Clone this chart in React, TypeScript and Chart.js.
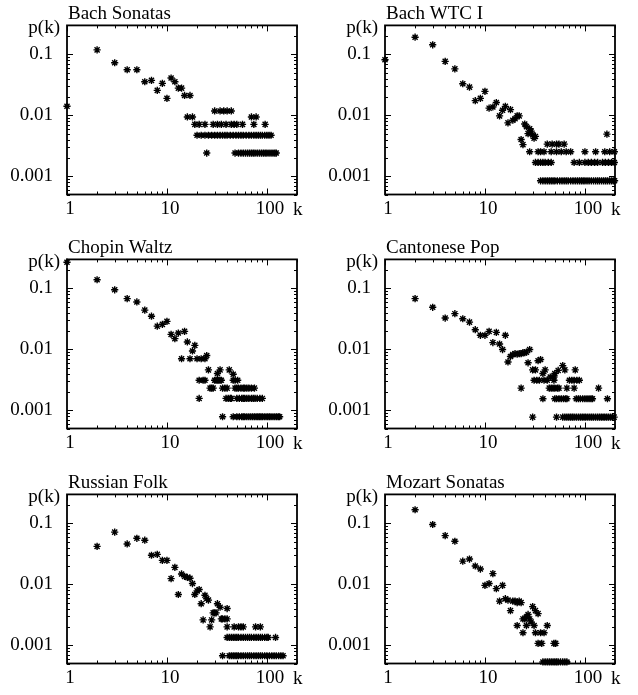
import React, { useEffect, useRef } from 'react';
import { Chart, registerables } from 'chart.js';

Chart.register(...registerables);

const FONT = '"Liberation Serif", "Times New Roman", Times, serif';

type Pt = [number, number];
type Row = { p: number; k: number[] };

// ---- Bach Sonatas ----
const bachSonatasPts: Pt[] = [
  [1, 0.0141], [2, 0.119], [3, 0.073], [4, 0.056], [5, 0.056], [6, 0.0356], [7, 0.0375],
  [8, 0.0257], [9, 0.0335], [10, 0.019], [11, 0.041], [12, 0.0356], [13, 0.028], [14, 0.028],
  [15, 0.0212], [17, 0.0212],
];
const bachSonatasRows: Row[] = [
  { p: 0.0118, k: [30, 34, 37, 40, 44] },
  { p: 0.0094, k: [16, 18, 70, 78] },
  { p: 0.0071, k: [19, 21, 24, 29, 32, 35, 39, 44, 47, 50, 57, 74, 96] },
  { p: 0.0047, k: [20, 22, 24, 26, 28, 30, 32, 34, 36, 38, 40, 43, 46, 49, 52, 55, 58, 62, 66, 70, 74, 78, 82, 86, 90, 95, 100, 105, 110] },
  { p: 0.0024, k: [25, 48, 52, 55, 58, 61, 64, 67, 70, 73, 76, 80, 84, 88, 92, 96, 100, 105, 110, 115, 120, 124] },
];

// ---- Bach WTC I ----
const bachWtcPts: Pt[] = [
  [1, 0.082], [2, 0.192], [3, 0.144], [4, 0.077], [5, 0.058], [6, 0.033], [7, 0.029],
  [8, 0.0174], [9, 0.019], [10, 0.0247], [11, 0.0131], [12, 0.0137], [13, 0.0162], [14, 0.0098],
  [15, 0.0121], [16, 0.014], [17, 0.0075], [18, 0.0124], [19, 0.0083], [20, 0.0088], [21, 0.0098],
  [22, 0.0098], [23, 0.004], [24, 0.0033], [25, 0.0072], [26, 0.0065], [27, 0.005], [28, 0.006],
  [29, 0.0055], [30, 0.0048], [31, 0.0042], [32, 0.0045], [166, 0.0049],
];
const bachWtcRows: Row[] = [
  { p: 0.00336, k: [42, 47, 52, 55, 62] },
  { p: 0.00252, k: [28, 34, 36, 39, 46, 52, 58, 65, 72, 100, 128, 158, 177, 197] },
  { p: 0.00168, k: [32, 34, 36, 38, 40, 43, 46, 78, 88, 100, 108, 116, 125, 134, 150, 160, 172, 185, 197] },
  { p: 0.00084, k: [36, 38, 40, 42, 44, 46, 48, 50, 53, 56, 59, 62, 65, 68, 72, 76, 80, 84, 88, 92, 96, 100, 105, 110, 116, 122, 128, 134, 140, 147, 154, 161, 168, 176, 184, 192, 198] },
];

// ---- Chopin Waltz ----
const chopinPts: Pt[] = [
  [1, 0.27], [2, 0.139], [3, 0.095], [4, 0.068], [5, 0.06], [6, 0.044], [7, 0.035], [8, 0.024],
  [9, 0.0257], [10, 0.0288], [11, 0.0176], [12, 0.015], [13, 0.0185], [15, 0.0197], [16, 0.0132],
  [18, 0.0094], [19, 0.0116], [25, 0.0079], [26, 0.0046], [32, 0.004], [34, 0.0046], [42, 0.0046],
  [46, 0.0039],
];
const chopinRows: Row[] = [
  { p: 0.0070, k: [14, 17, 20, 22, 24] },
  { p: 0.0031, k: [21, 23, 24, 30, 31, 32, 33, 34, 35, 46, 48, 51] },
  { p: 0.0023, k: [27, 28, 29, 36, 38, 40, 48, 50, 52, 55, 58, 60, 63, 66, 70, 75] },
  { p: 0.00156, k: [21, 39, 41, 43, 44, 50, 53, 56, 58, 60, 63, 66, 70, 73, 76, 80, 85, 90] },
  { p: 0.00078, k: [36, 46, 50, 53, 56, 58, 60, 63, 66, 69, 72, 75, 78, 81, 84, 87, 90, 94, 98, 102, 106, 110, 115, 120, 125, 130, 134] },
];

// ---- Cantonese Pop ----
const cantonesePts: Pt[] = [
  [2, 0.068], [3, 0.049], [4, 0.0326], [5, 0.0385], [6, 0.0318], [7, 0.028], [8, 0.021],
  [9, 0.017], [10, 0.017], [11, 0.0197], [12, 0.0129], [13, 0.019], [14, 0.0122], [15, 0.0099],
  [16, 0.017], [17, 0.0062], [18, 0.0076], [19, 0.0082], [20, 0.0085], [21, 0.0083], [22, 0.0085],
  [23, 0.0085], [24, 0.0088], [25, 0.0088], [26, 0.009], [27, 0.006], [28, 0.0099], [30, 0.0046],
  [32, 0.0046], [34, 0.0065], [36, 0.0068], [38, 0.004], [40, 0.0046], [45, 0.0035], [49, 0.0035],
  [50, 0.004], [54, 0.0045], [60, 0.0054], [63, 0.0046], [80, 0.0046],
];
const cantoneseRows: Row[] = [
  { p: 0.0031, k: [31, 33, 35, 39, 42, 49, 70, 74, 78, 83, 88] },
  { p: 0.0023, k: [23, 44, 46, 48, 50, 53, 55, 66, 78, 137] },
  { p: 0.00154, k: [38, 50, 52, 55, 58, 61, 64, 66, 82, 86, 90, 95, 100, 105, 110, 115, 119, 168] },
  { p: 0.00077, k: [30, 52, 60, 63, 66, 69, 72, 75, 78, 82, 86, 90, 94, 98, 102, 107, 112, 117, 122, 128, 134, 140, 146, 152, 158, 165, 172, 180, 188, 196] },
];

// ---- Russian Folk ----
const russianPts: Pt[] = [
  [2, 0.042], [3, 0.072], [4, 0.046], [5, 0.057], [6, 0.053], [7, 0.03], [8, 0.031], [9, 0.0247],
  [10, 0.0247], [11, 0.0124], [12, 0.019], [13, 0.0068], [14, 0.0148], [15, 0.0135], [16, 0.013],
  [17, 0.0126], [18, 0.0103], [19, 0.0068], [20, 0.0078], [21, 0.0082], [22, 0.0048], [23, 0.0026],
  [24, 0.0066], [25, 0.0058], [26, 0.0055], [27, 0.002], [28, 0.0026], [29, 0.0034], [30, 0.0034],
  [31, 0.0034], [32, 0.0048], [34, 0.0042], [40, 0.004],
];
const russianRows: Row[] = [
  { p: 0.0027, k: [35, 36, 38, 40] },
  { p: 0.002, k: [40, 47, 52, 55, 58, 77, 86] },
  { p: 0.00134, k: [40, 42, 44, 46, 48, 50, 52, 55, 58, 61, 64, 67, 70, 74, 78, 82, 86, 90, 95, 100, 103, 122] },
  { p: 0.00067, k: [36, 42, 44, 46, 48, 50, 52, 55, 58, 61, 64, 67, 70, 74, 78, 82, 86, 90, 95, 100, 106, 112, 118, 124, 131, 138, 145] },
];

// ---- Mozart Sonatas ----
const mozartPts: Pt[] = [
  [2, 0.168], [3, 0.096], [4, 0.063], [5, 0.051], [6, 0.024], [7, 0.026], [8, 0.02], [9, 0.0178],
  [10, 0.0096], [11, 0.0103], [12, 0.015], [13, 0.0085], [14, 0.0053], [15, 0.0096], [16, 0.0058],
  [17, 0.0055], [18, 0.0037], [19, 0.0053], [20, 0.0053], [21, 0.005], [22, 0.0053], [23, 0.005],
  [24, 0.0027], [25, 0.0027], [26, 0.0029], [27, 0.0032], [28, 0.0027], [29, 0.0024], [30, 0.0043],
  [32, 0.0037], [34, 0.0033],
];
const mozartRows: Row[] = [
  { p: 0.0021, k: [21, 26, 31, 42] },
  { p: 0.0016, k: [24, 32, 36, 39] },
  { p: 0.00107, k: [34, 37, 49, 51] },
  { p: 0.00053, k: [38, 40, 42, 44, 46, 48, 50, 52, 54, 57, 60, 63, 66] },
];

const panelTitles = ['Bach Sonatas', 'Bach WTC I', 'Chopin Waltz', 'Cantonese Pop', 'Russian Folk', 'Mozart Sonatas'];
const panelPts = [bachSonatasPts, bachWtcPts, chopinPts, cantonesePts, russianPts, mozartPts];
const panelRows = [bachSonatasRows, bachWtcRows, chopinRows, cantoneseRows, russianRows, mozartRows];

const xMin = 1, xMax = 200;
const yMin = 0.0005, yMax = 0.3;

const isDecade = (v: number) => {
  const l = Math.log10(v);
  return Math.abs(l - Math.round(l)) < 1e-9;
};
const isWholeMantissa = (v: number) => {
  const e = Math.floor(Math.log10(v) + 1e-9);
  const m = v / Math.pow(10, e);
  return Math.abs(m - Math.round(m)) < 1e-6;
};
const decadeLabel = (v: number | string) => {
  const n = Number(v);
  return isDecade(n) ? String(n) : '';
};

const framePlugin = (title: string) => ({
  id: 'frame',
  beforeDatasetsDraw(chart: any) {
    const { ctx, chartArea: a, scales } = chart;
    const xs = scales.x, ys = scales.y;
    ctx.save();
    ctx.strokeStyle = '#000';
    ctx.lineWidth = 1;
    ctx.beginPath();
    xs.ticks.forEach((t: any) => {
      if (!isWholeMantissa(t.value)) return;
      const px = Math.round(xs.getPixelForValue(t.value)) + 0.5;
      const len = isDecade(t.value) ? 6 : 3;
      ctx.moveTo(px, a.bottom); ctx.lineTo(px, a.bottom - len);
      ctx.moveTo(px, a.top); ctx.lineTo(px, a.top + len);
    });
    ys.ticks.forEach((t: any) => {
      if (!isWholeMantissa(t.value)) return;
      const py = Math.round(ys.getPixelForValue(t.value)) + 0.5;
      const len = isDecade(t.value) ? 6 : 3;
      ctx.moveTo(a.left, py); ctx.lineTo(a.left + len, py);
      ctx.moveTo(a.right, py); ctx.lineTo(a.right - len, py);
    });
    ctx.stroke();
    ctx.lineWidth = 1.8;
    ctx.strokeRect(a.left, a.top, a.right - a.left, a.bottom - a.top);
    ctx.fillStyle = '#000';
    ctx.font = `19px ${FONT}`;
    ctx.textBaseline = 'alphabetic';
    ctx.textAlign = 'left';
    ctx.fillText(title, a.left + 1, a.top - 6.5);
    ctx.textAlign = 'right';
    ctx.fillText('p(k)', a.left - 7, a.top + 8);
    ctx.textAlign = 'left';
    ctx.fillText('k', a.right - 4, a.bottom + 20);
    ctx.restore();
  },
});

function Panel({ index, left, top }: { index: number; left: number; top: number }) {
  const ref = useRef<HTMLCanvasElement>(null);
  useEffect(() => {
    const pts: { x: number; y: number }[] = panelPts[index].map(([x, y]) => ({ x, y }));
    panelRows[index].forEach((r) => r.k.forEach((k) => pts.push({ x: k, y: r.p })));
    const tickFont = { family: FONT, size: 19 };
    const chart = new Chart(ref.current as HTMLCanvasElement, {
      type: 'scatter',
      data: {
        datasets: [
          {
            data: pts,
            pointStyle: 'star',
            pointRadius: 3.6,
            borderWidth: 1.4,
            borderColor: '#000',
            backgroundColor: '#000',
            clip: false as any,
          } as any,
        ],
      },
      options: {
        responsive: false,
        animation: false,
        devicePixelRatio: 1,
        events: [],
        layout: { padding: { left: 0, top: 25, right: 21, bottom: 0 } },
        plugins: { legend: { display: false }, tooltip: { enabled: false }, title: { display: false } },
        scales: {
          x: {
            type: 'logarithmic',
            min: xMin,
            max: xMax,
            grid: { display: false, drawTicks: false },
            border: { display: false },
            ticks: {
              autoSkip: false,
              minRotation: 0,
              maxRotation: 0,
              padding: 3,
              labelOffset: 3,
              color: '#000',
              font: tickFont,
              callback: decadeLabel,
            },
            afterFit: (s: any) => { s.height = 31.5; },
          } as any,
          y: {
            type: 'logarithmic',
            min: yMin,
            max: yMax,
            grid: { display: false, drawTicks: false },
            border: { display: false },
            ticks: {
              autoSkip: false,
              padding: 14,
              color: '#000',
              font: tickFont,
              callback: decadeLabel,
            },
            afterFit: (s: any) => { s.width = 67; },
          } as any,
        },
      },
      plugins: [framePlugin(panelTitles[index])],
    });
    return () => chart.destroy();
  }, [index]);
  return (
    <canvas
      ref={ref}
      width={318}
      height={226}
      style={{ position: 'absolute', left, top, width: 318, height: 226 }}
    />
  );
}

const colLefts = [0, 318];
const rowTops = [0, 234, 469];

export default function App() {
  return (
    <div style={{ position: 'absolute', left: 0, top: 0, width: 638, height: 695, overflow: 'hidden', background: '#fff' }}>
      {panelTitles.map((_, i) => (
        <Panel key={i} index={i} left={colLefts[i % 2]} top={rowTops[Math.floor(i / 2)]} />
      ))}
    </div>
  );
}
